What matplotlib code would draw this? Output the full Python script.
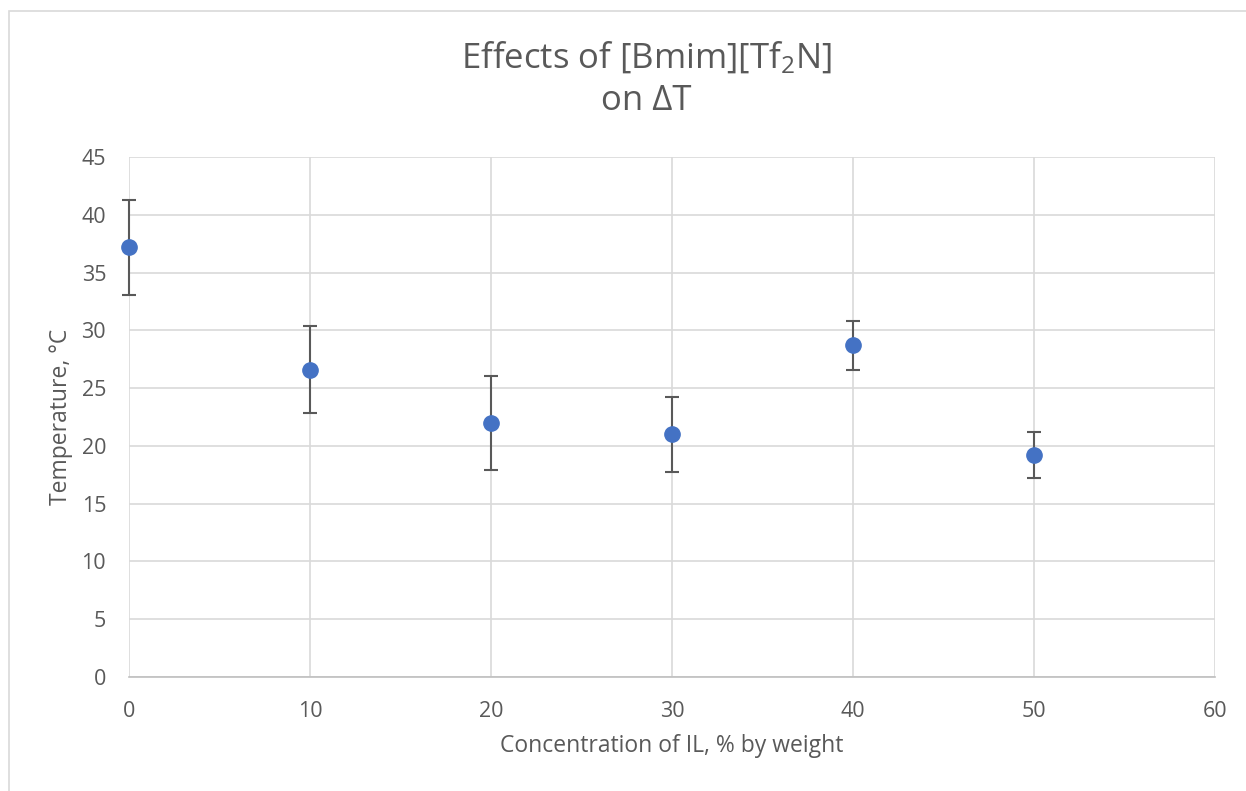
import matplotlib
matplotlib.use("Agg")
import matplotlib.pyplot as plt
from matplotlib.patches import Rectangle

# data
concentration = [0, 10, 20, 30, 40, 50]
delta_t = [37.2, 26.6, 22.0, 21.0, 28.7, 19.2]
delta_t_err = [4.1, 3.75, 4.05, 3.25, 2.15, 2.0]

x_ticks = [0, 10, 20, 30, 40, 50, 60]
y_ticks = [0, 5, 10, 15, 20, 25, 30, 35, 40, 45]

text_color = "#595959"
grid_color = "#d9d9d9"
marker_color = "#4472c4"

plt.rcParams['font.family'] = ['Open Sans', 'DejaVu Sans']
plt.rcParams['mathtext.fontset'] = 'custom'
plt.rcParams['mathtext.rm'] = 'Open Sans'
plt.rcParams['mathtext.it'] = 'Open Sans'

fig = plt.figure(figsize=(12.46, 7.91), dpi=100)
ax = fig.add_axes([129 / 1246, 1 - 677 / 791, (1215 - 129) / 1246, (677 - 157) / 791])

# chart border
fig.patches.append(Rectangle((9 / 1246, -0.01), 1.1, 1 - 11 / 791 + 0.01,
                             transform=fig.transFigure, fill=False,
                             edgecolor=grid_color, linewidth=1.2))

markers, caps, bars = ax.errorbar(concentration, delta_t, yerr=delta_t_err, fmt='o',
                                  color=marker_color, markersize=11, ecolor="#595959",
                                  elinewidth=1.5, capsize=5, capthick=1.5, zorder=3)
markers.set_clip_on(False)
for c in caps:
    c.set_clip_on(False)
for b in bars:
    b.set_clip_on(False)

ax.set_xlim(0, 60)
ax.set_ylim(0, 45)
ax.set_xticks(x_ticks)
ax.set_yticks(y_ticks)
ax.grid(True, color=grid_color, linewidth=1.2)
ax.set_axisbelow(True)
for side in ['top', 'right', 'left']:
    ax.spines[side].set_visible(False)
ax.spines['bottom'].set_color("#bfbfbf")
ax.spines['bottom'].set_linewidth(1.2)
ax.tick_params(length=0, labelsize=15.5, labelcolor=text_color)
ax.tick_params(axis='y', pad=16.5)
ax.tick_params(axis='x', pad=17)

ax.set_xlabel("Concentration of IL, % by weight", fontsize=16.5,
              color=text_color, labelpad=9)
ax.set_ylabel("Temperature, °C", fontsize=16.5, color=text_color, labelpad=6)

fig.text(646 / 1246, 1 - 58 / 791, "Effects of [Bmim][Tf$_2$N]",
         ha='center', va='center', fontsize=25, color=text_color)
fig.text(646 / 1246, 1 - 101 / 791, "on ΔT",
         ha='center', va='center', fontsize=25, color=text_color)

fig.savefig("out.png", dpi=100)
